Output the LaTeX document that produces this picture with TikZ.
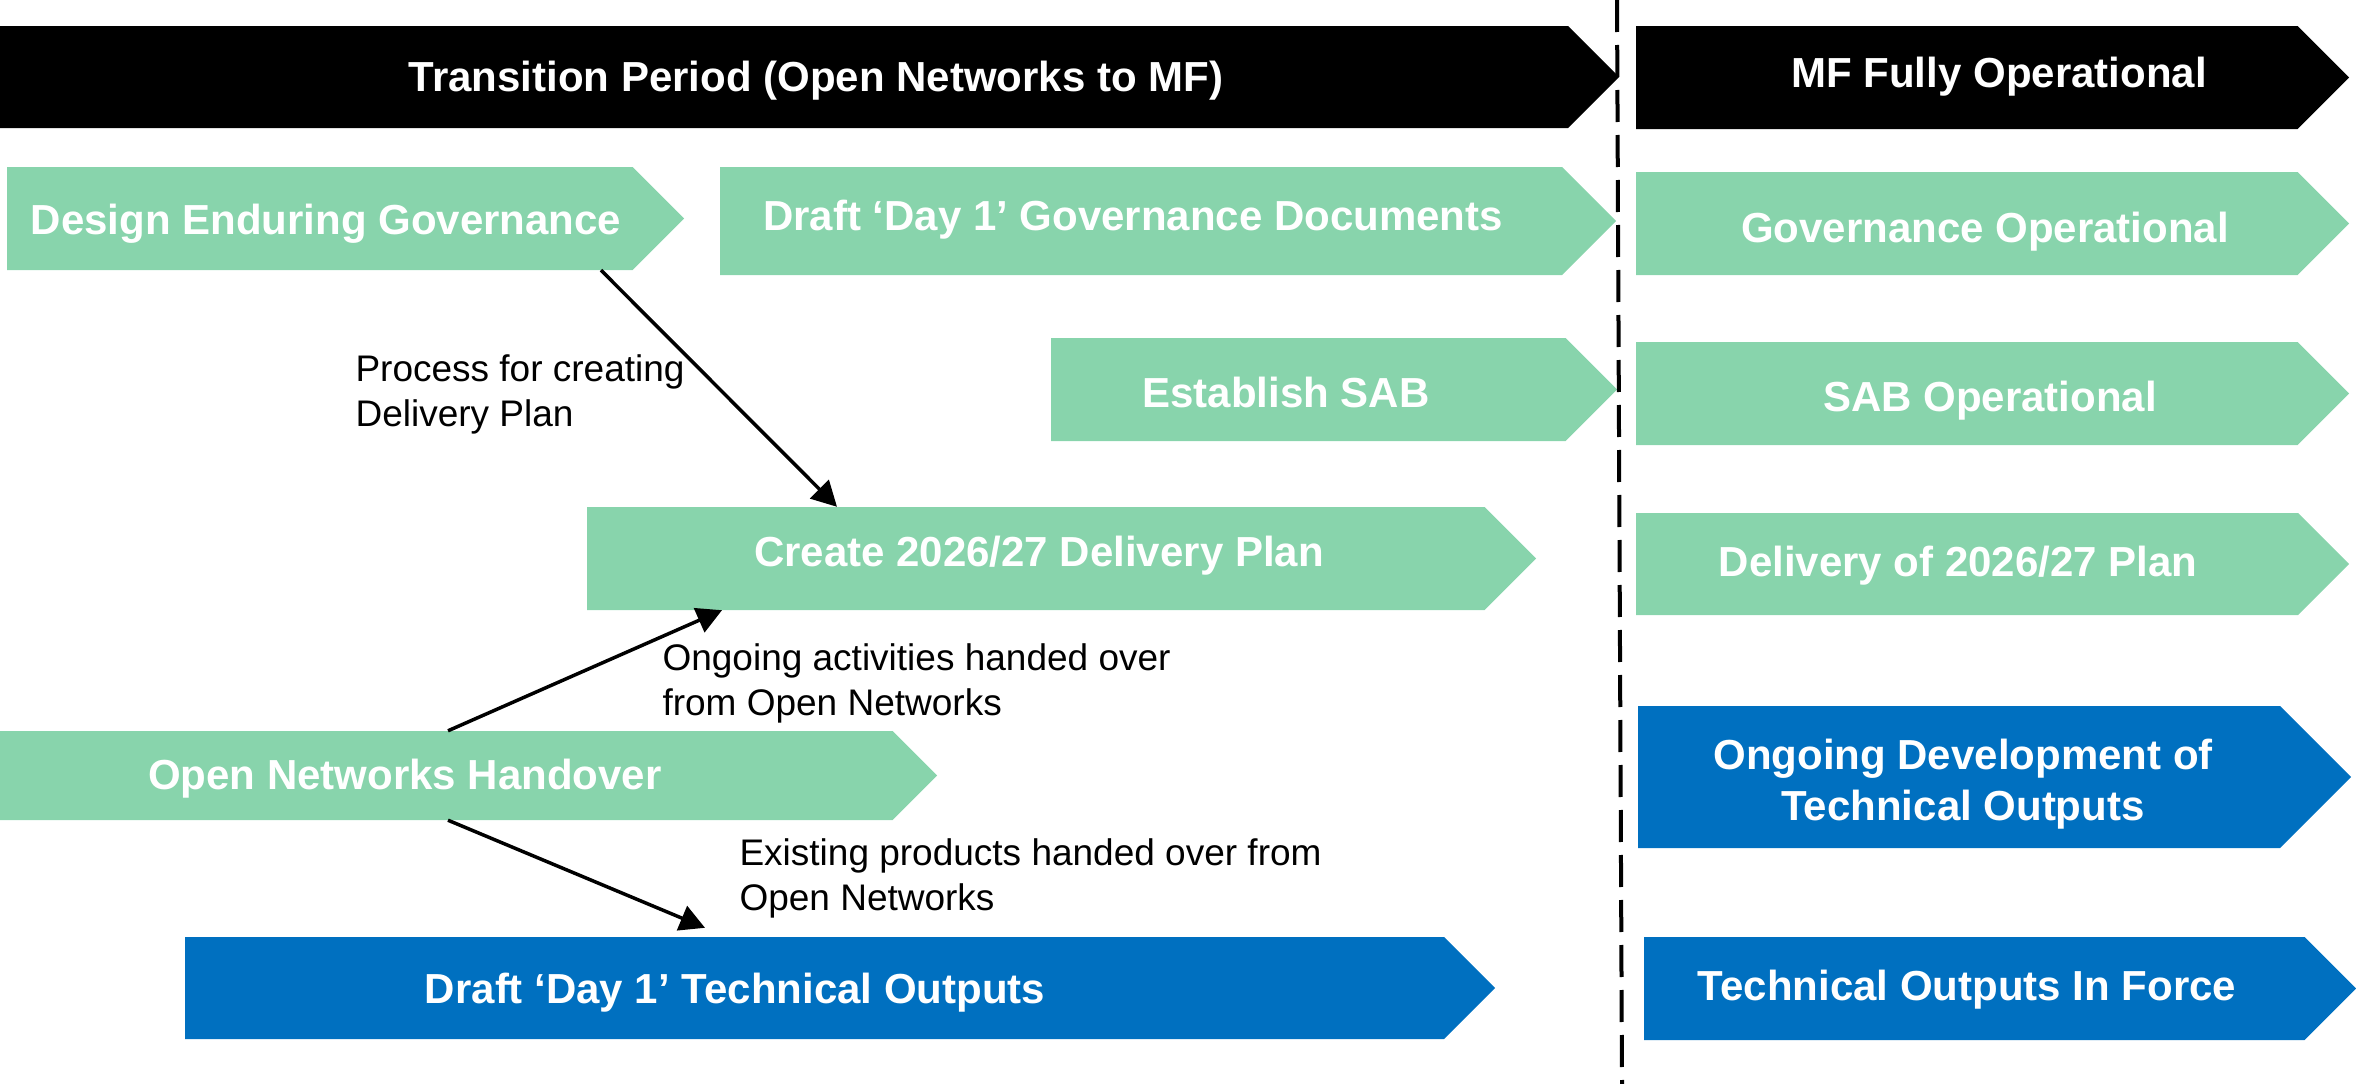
\documentclass[tikz,border=0pt]{standalone}
\usepackage{fontspec}
\setmainfont{Liberation Sans}
\usetikzlibrary{shapes.symbols,arrows.meta}

\definecolor{mint}{RGB}{136,212,172}
\definecolor{techblue}{RGB}{0,112,192}

\tikzset{
  stage/.style={signal, signal to=east, signal pointer angle=90, fill=#1, draw=none, inner sep=0pt, anchor=west},
  stagetext/.style={text=white, font=\bfseries\fontsize{42}{51}\selectfont, align=center},
  note/.style={anchor=west, align=left, font=\fontsize{37}{45}\selectfont},
  handover/.style={-{Triangle[length=25pt,width=26pt]}, line width=3.5pt},
  divider/.style={line width=4pt, dash pattern=on 32pt off 13pt},
}

\begin{document}
\begin{tikzpicture}[x=1pt,y=-1pt]
    \useasboundingbox (0,0) rectangle (2356,1084);

    % phase banners
    \node[stage=black, minimum width=1619pt, minimum height=102pt] (trans) at (0,77) {};
    \node[stage=black, minimum width=713pt, minimum height=103pt] (mfop) at (1636,77.5) {};

    % transition period
    \node[stage=mint, minimum width=677pt, minimum height=103pt] (design) at (7,218.5) {};
    \node[stage=mint, minimum width=896pt, minimum height=108pt] (draftgov) at (720,221) {};
    \node[stage=mint, minimum width=566pt, minimum height=103pt] (sab) at (1051,389.5) {};
    \node[stage=mint, minimum width=949pt, minimum height=103pt] (create) at (587,558.5) {};
    \node[stage=mint, minimum width=937pt, minimum height=89pt] (onh) at (0,775.5) {};
    \node[stage=techblue, minimum width=1310pt, minimum height=102pt] (drafttech) at (185,988) {};

    % MF fully operational
    \node[stage=mint, minimum width=713pt, minimum height=103pt] (govop) at (1636,223.5) {};
    \node[stage=mint, minimum width=713pt, minimum height=103pt] (sabop) at (1636,393.5) {};
    \node[stage=mint, minimum width=713pt, minimum height=102pt] (delivery) at (1636,564) {};
    \node[stage=techblue, minimum width=713pt, minimum height=142pt] (ongoing) at (1638,777) {};
    \node[stage=techblue, minimum width=712pt, minimum height=103pt] (inforce) at (1644,988.5) {};

    % texts
    \node[stagetext] (trans-l) at (816,81) {Transition Period (Open Networks to MF)};
    \node[stagetext] (mfop-l) at (1999,77) {MF Fully Operational};
    \node[stagetext] (design-l) at (326,224) {Design Enduring Governance};
    \node[stagetext] (draftgov-l) at (1133,220) {Draft ‘Day 1’ Governance Documents};
    \node[stagetext] (sab-l) at (1286,392) {Establish SAB};
    \node[stagetext] (create-l) at (1039,556) {Create 2026/27 Delivery Plan};
    \node[stagetext] (onh-l) at (405,778.5) {Open Networks Handover};
    \node[stagetext] (drafttech-l) at (735,993) {Draft ‘Day 1’ Technical Outputs};
    \node[stagetext] (govop-l) at (1985,231.5) {Governance Operational};
    \node[stagetext] (sabop-l) at (1990,400.5) {SAB Operational};
    \node[stagetext] (delivery-l) at (1958,566) {Delivery of 2026/27 Plan};
    \node[stagetext] (ongoing-l) at (1963,784) {Ongoing Development of\\Technical Outputs};
    \node[stagetext] (inforce-l) at (1967,990) {Technical Outputs In Force};

    % handovers
    \node[note] (proc-n) at (352,394) {Process for creating\\Delivery Plan};
    \node[note] (ongo-n) at (659,683) {Ongoing activities handed over\\from Open Networks};
    \node[note] (exist-n) at (736,878) {Existing products handed over from\\Open Networks};

    \draw[handover] (design.south -| 601,0) -- (create.north -| 837,0);
    \draw[handover] (onh.north -| 448,0) -- (create.south -| 722,0);
    \draw[handover] (onh.south -| 448,0) -- ([yshift=9pt]drafttech.north -| 705,0);

    \draw[divider] (1617,0) -- (1622,1084);
\end{tikzpicture}
\end{document}
